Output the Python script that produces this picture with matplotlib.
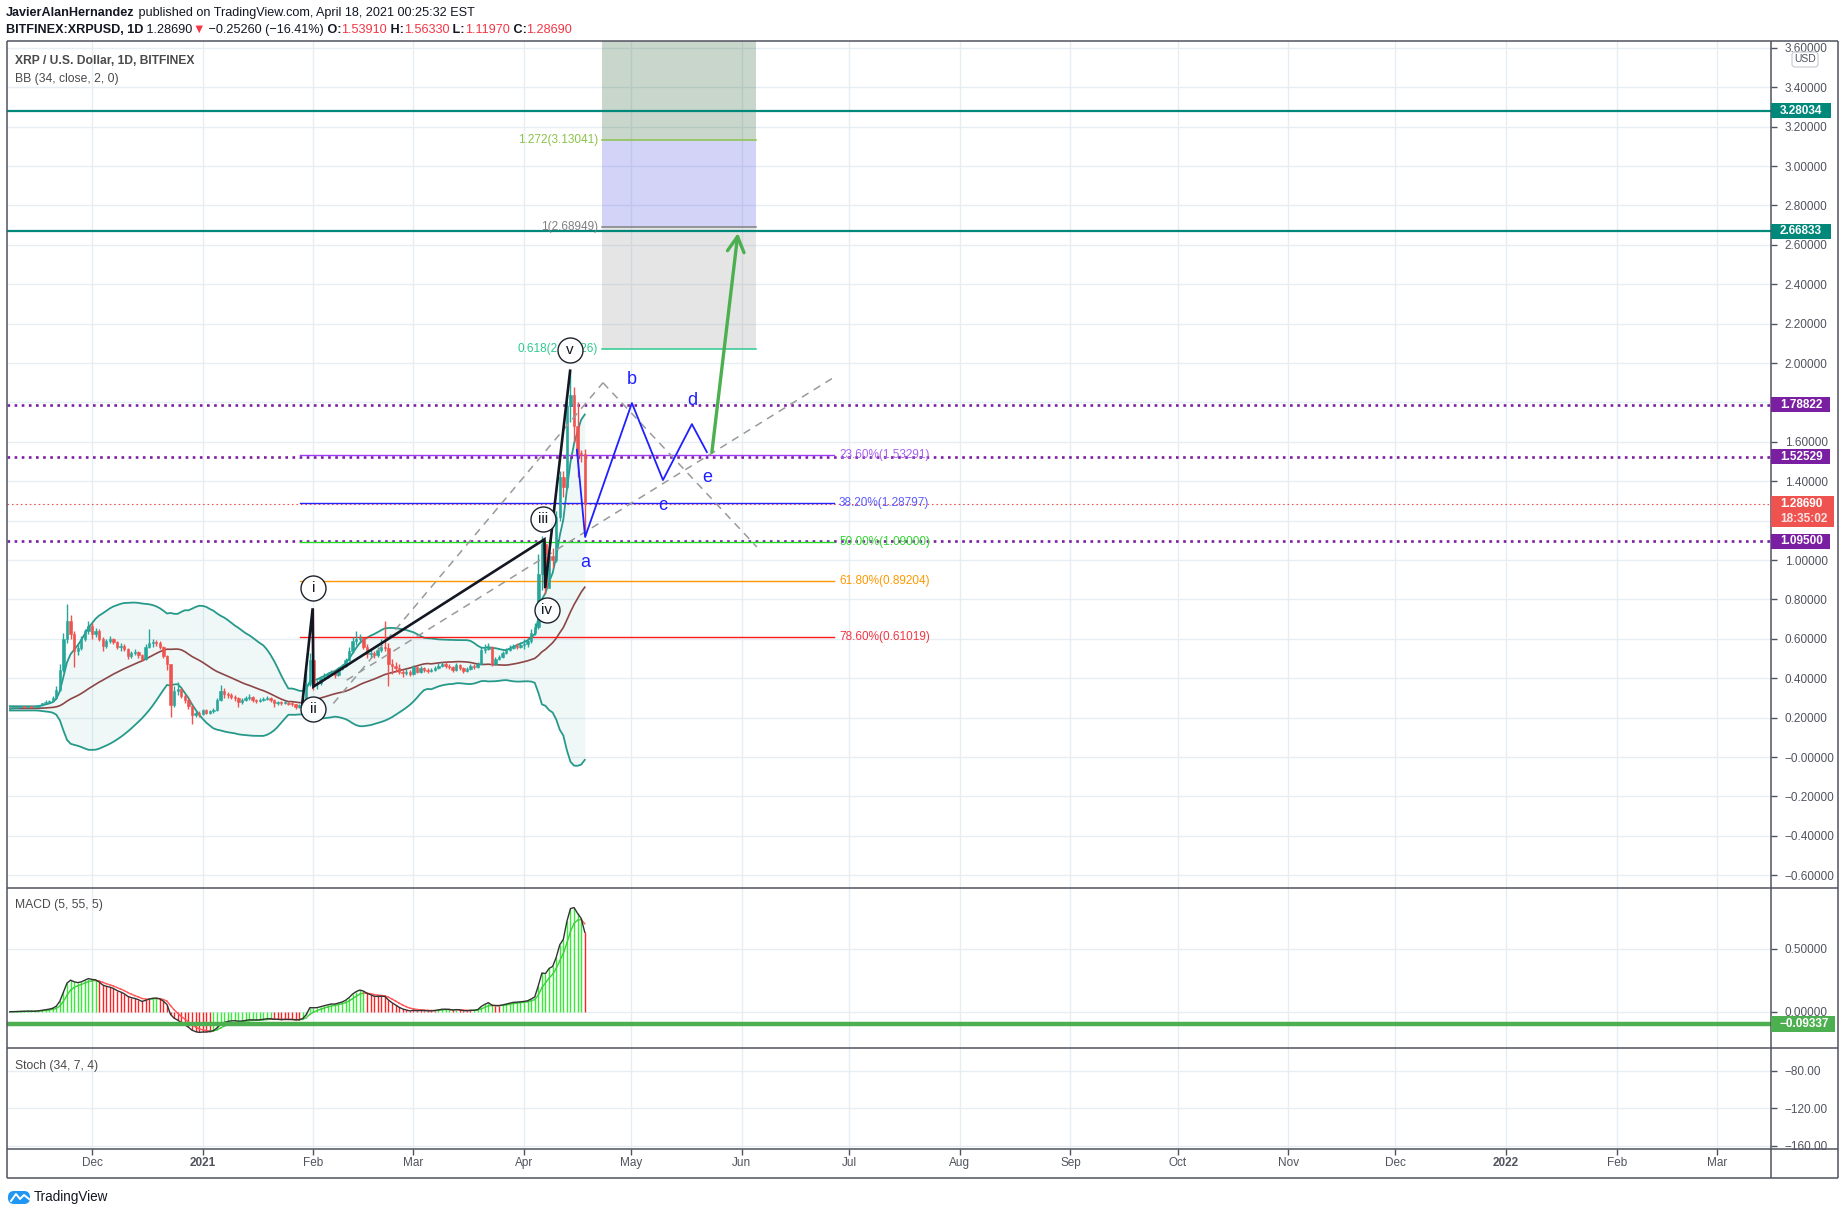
import numpy as np
import pandas as pd
import matplotlib
matplotlib.use('Agg')
import matplotlib.pyplot as plt
from matplotlib import font_manager
from matplotlib.patches import Rectangle, FancyBboxPatch
import matplotlib.transforms as mtrans

# ---------------------------------------------------------------- data
# hidden history (Sep 29 - Nov 7 2020) used only to warm up BB / MACD
pre_closes = [0.240, 0.242, 0.245, 0.250, 0.252, 0.251, 0.253, 0.250, 0.252, 0.254,
              0.256, 0.255, 0.254, 0.253, 0.250, 0.248, 0.245, 0.244, 0.243, 0.242,
              0.245, 0.248, 0.252, 0.254, 0.253, 0.250, 0.248, 0.246, 0.245, 0.242,
              0.239, 0.236, 0.236, 0.238, 0.240, 0.244, 0.248, 0.250, 0.248, 0.246]

candle_start = '2020-11-08'
close_nov = [.248, .250, .252, .254, .252, .256, .252, .254, .262, .272, .280, .283, .300, .340, .440, .600, .690, .625, .540, .555, .600, .640, .665]
high_nov = [.252, .254, .256, .258, .257, .259, .258, .257, .266, .276, .287, .290, .310, .360, .470, .630, .777, .720, .640, .575, .615, .650, .690]
low_nov = [.244, .246, .248, .250, .249, .250, .249, .250, .252, .260, .270, .276, .281, .298, .336, .430, .580, .600, .458, .520, .545, .590, .625]

close_dec = [.625, .640, .600, .565, .590, .600, .585, .560, .565, .550, .515, .530, .535, .520, .500, .560, .580, .585, .580, .560, .515, .470, .265, .335, .345, .310, .290, .260, .215, .225, .220]
high_dec = [.680, .655, .650, .610, .600, .615, .605, .590, .580, .575, .555, .540, .550, .540, .525, .575, .650, .600, .595, .590, .565, .520, .470, .360, .380, .350, .320, .300, .265, .240, .235]
low_dec = [.600, .610, .590, .540, .555, .580, .575, .550, .540, .540, .500, .505, .520, .505, .485, .495, .555, .560, .565, .550, .505, .440, .205, .255, .315, .300, .275, .245, .170, .205, .205]

close_jan = [.238, .225, .232, .240, .290, .335, .320, .315, .305, .300, .280, .290, .300, .305, .290, .285, .290, .295, .300, .290, .272, .278, .272, .275, .270, .268, .255, .262, .290, .370, .490]
high_jan = [.245, .245, .240, .250, .300, .365, .350, .330, .325, .315, .305, .300, .310, .320, .310, .295, .300, .305, .310, .305, .292, .285, .282, .282, .280, .278, .270, .268, .305, .450, .530]
low_jan = [.215, .218, .220, .225, .235, .285, .300, .300, .295, .285, .255, .270, .285, .290, .280, .275, .280, .285, .290, .280, .255, .262, .265, .268, .262, .258, .245, .250, .255, .282, .360]

close_feb = [.370, .375, .400, .410, .420, .430, .415, .445, .460, .490, .540, .590, .600, .605, .560, .525, .530, .520, .545, .560, .555, .470, .460, .450, .430, .425, .430, .420]
high_feb = [.755, .390, .410, .425, .430, .440, .440, .455, .470, .505, .560, .610, .640, .625, .610, .575, .545, .540, .560, .600, .690, .580, .500, .480, .470, .445, .445, .440]
low_feb = [.340, .345, .365, .390, .400, .415, .400, .410, .440, .455, .485, .530, .570, .580, .550, .505, .505, .505, .510, .535, .540, .360, .420, .430, .420, .405, .415, .410]

close_mar = [.455, .430, .450, .440, .435, .440, .450, .460, .470, .460, .455, .440, .465, .450, .435, .445, .460, .455, .470, .545, .550, .560, .470, .500, .510, .530, .545, .555, .565, .560, .570]
high_mar = [.465, .460, .460, .455, .450, .450, .460, .475, .480, .480, .470, .460, .475, .470, .455, .455, .470, .470, .480, .560, .575, .580, .565, .510, .520, .540, .555, .570, .575, .580, .585]
low_mar = [.415, .425, .425, .430, .425, .430, .435, .445, .455, .450, .445, .430, .435, .440, .425, .430, .440, .445, .450, .465, .530, .545, .460, .465, .495, .505, .525, .540, .550, .550, .555]

close_apr = [.575, .590, .630, .660, .930, 1.080, .860, 1.020, 1.000, 1.220, 1.420, 1.370, 1.780, 1.840, 1.680, 1.540, 1.539, 1.2869]
high_apr = [.600, .610, .650, .680, 1.030, 1.120, 1.100, 1.050, 1.060, 1.250, 1.450, 1.450, 1.800, 1.960, 1.880, 1.800, 1.560, 1.5633]
low_apr = [.550, .560, .580, .620, .650, .850, .827, .860, .960, .990, 1.200, 1.320, 1.360, 1.700, 1.600, 1.420, 1.500, 1.1197]

month_ticks = ['2020-12-01', '2021-01-01', '2021-02-01', '2021-03-01', '2021-04-01', '2021-05-01',
               '2021-06-01', '2021-07-01', '2021-08-01', '2021-09-01', '2021-10-01', '2021-11-01',
               '2021-12-01', '2022-01-01', '2022-02-01', '2022-03-01']
month_labels = ['Dec', '2021', 'Feb', 'Mar', 'Apr', 'May', 'Jun', 'Jul', 'Aug', 'Sep', 'Oct', 'Nov',
                'Dec', '2022', 'Feb', 'Mar']

# user drawings (anchor points: day offset from 2020-12-01, price)
hlines_teal = [3.28034, 2.66833]
hlines_purple = [1.78822, 1.52529, 1.09500]
last_price = 1.28690
fib_ret_x = [58.2, 207.8]
fib_ret_levels = [1.53291, 1.28797, 1.09000, 0.89204, 0.61019]
fib_ret_labels = ['23.60%(1.53291)', '38.20%(1.28797)', '50.00%(1.09000)', '61.80%(0.89204)', '78.60%(0.61019)']
fib_ret_colors = ['#9c3cf5', '#2323ff', '#22dd22', '#ff9800', '#ff1a1a']
fib_ret_text_colors = ['#a860f0', '#5a5aff', '#33d633', '#ff9800', '#f23645']
fib_ext_x = [142.8, 185.9]
fib_ext_levels = [2.07026, 2.68949, 3.13041, 3.69128]
fib_ext_labels = ['0.618(2.07026)', '1(2.68949)', '1.272(3.13041)']
fib_ext_colors = ['#2ec98f', '#808080', '#8bc34a']
ew_x = [58.9, 61.8, 62.0, 126.7, 126.9, 133.9]
ew_y = [0.272, 0.755, 0.357, 1.105, 0.858, 1.961]
ew_labels = ['i', 'ii', 'iii', 'iv', 'v']
ew_label_x = [62.0, 62.0, 126.4, 127.3, 133.9]
ew_label_y = [0.857, 0.246, 1.206, 0.746, 2.066]
dash_lines = [([67.6, 143.1], [0.272, 1.90]), ([143.1, 186.2], [1.90, 1.066]), ([71.3, 208.0], [0.39, 1.93])]
abc_x = [135.8, 138.1, 151.2, 159.9, 168.0, 172.2]
abc_y = [1.56, 1.117, 1.797, 1.406, 1.690, 1.548]
abc_labels = ['a', 'b', 'c', 'd', 'e']
abc_label_x = [138.1, 151.2, 159.9, 168.0, 172.2]
abc_label_y = [0.99, 1.914, 1.279, 1.812, 1.421]
arrow_from = (173.6, 1.548)
arrow_to = (180.9, 2.66)
macd_hline = -0.09337

# ---------------------------------------------------------------- fonts
names = {f.name for f in font_manager.fontManager.ttflist}
FONT = 'Liberation Sans Narrow' if 'Liberation Sans Narrow' in names else 'Liberation Sans'
NARROW = FONT == 'Liberation Sans Narrow'
plt.rcParams['font.family'] = [FONT, 'DejaVu Sans']


def fs(px):
    return px * 0.72 * (1.0 if NARROW else 0.9)


W, H, DPI = 1847, 1214, 100
TXT = '#131722'
AXC = '#50535e'
GRID = '#e6edf3'

# ---------------------------------------------------------------- series
closes = close_nov + close_dec + close_jan + close_feb + close_mar + close_apr
highs = np.array(high_nov + high_dec + high_jan + high_feb + high_mar + high_apr)
lows = np.array(low_nov + low_dec + low_jan + low_feb + low_mar + low_apr)
c = np.array(closes)
o = np.array([pre_closes[-1]] + closes[:-1])
dates = pd.date_range(candle_start, periods=len(c), freq='D')
origin = pd.Timestamp('2020-12-01')
xd = (dates - origin).days.values.astype(float)

allc = pd.Series(pre_closes + closes)
npre = len(pre_closes)
basis = allc.rolling(34).mean()
dev = allc.rolling(34).std(ddof=0)
upper = (basis + 2 * dev).values[npre:]
lower = (basis - 2 * dev).values[npre:]
basis = basis.values[npre:]
ema_f = allc.ewm(span=5, adjust=False).mean()
ema_s = allc.ewm(span=55, adjust=False).mean()
macd_all = ema_f - ema_s
sig_all = macd_all.ewm(span=5, adjust=False).mean()
macd = macd_all.values[npre:]
sig = sig_all.values[npre:]

# ---------------------------------------------------------------- figure
fig = plt.figure(figsize=(W / DPI, H / DPI), dpi=DPI, facecolor='white')


def fax(x0, y0, x1, y1):
    return [x0 / W, 1 - y1 / H, (x1 - x0) / W, (y1 - y0) / H]


LX, RX = 7, 1771
TOP, S1, S2, S3, BOT, FR = 41, 888, 1048, 1149, 1178, 1838
ax = fig.add_axes(fax(LX, TOP, RX, S1))
axm = fig.add_axes(fax(LX, S1, RX, S2), sharex=ax)
axs = fig.add_axes(fax(LX, S2, RX, S3), sharex=ax)

ax.set_xlim(-23.8, 470.2)
ax.set_ylim(-0.665, 3.635)
axm.set_ylim(-0.286, 0.984)
axs.set_ylim(-163.2, -55.5)

tick_x = [(pd.Timestamp(d) - origin).days for d in month_ticks]


def pricefmt(v):
    s = f'{abs(v):.5f}'
    return ('\u2212' + s) if v < 1e-4 else s


for a in (ax, axm, axs):
    a.set_facecolor('white')
    for sp in a.spines.values():
        sp.set_visible(False)
    a.yaxis.tick_right()
    a.tick_params(axis='y', length=4, width=1, color=AXC, pad=6, labelsize=fs(13),
                  labelcolor=AXC, direction='out')
    a.set_xticks(tick_x)
    a.grid(True, color=GRID, lw=1, zorder=0)
    a.set_axisbelow(True)

main_ticks = np.round(np.arange(-0.6, 3.61, 0.2), 2)
ax.set_yticks(main_ticks)
ax.set_yticklabels([pricefmt(v) for v in main_ticks])
axm.set_yticks([0.0, 0.5])
axm.set_yticklabels(['0.00000', '0.50000'])
axs.set_yticks([-80, -120, -160])
axs.set_yticklabels(['\u221280.00', '\u2212120.00', '\u2212160.00'])
ax.tick_params(axis='x', labelbottom=False, length=0)
axm.tick_params(axis='x', labelbottom=False, length=0)
axs.tick_params(axis='x', length=4, width=1, color=AXC, pad=2, labelsize=fs(13), labelcolor=AXC)
axs.set_xticklabels(month_labels)
for lab in axs.get_xticklabels():
    if lab.get_text() in ('2021', '2022'):
        lab.set_fontweight('bold')

# ---------------------------------------------------------------- main pane
# fib extension boxes
ext_fills = ['#808080', '#6e6ee6', '#4a7a55']
ext_alpha = [0.2, 0.3, 0.3]
for i in range(3):
    ax.fill_between(fib_ext_x, fib_ext_levels[i], fib_ext_levels[i + 1], color=ext_fills[i],
                    alpha=ext_alpha[i], lw=0, zorder=1)
for lv, lab, col in zip(fib_ext_levels[:3], fib_ext_labels, fib_ext_colors):
    ax.plot(fib_ext_x, [lv, lv], color=col, lw=1.1, zorder=2)
    ax.text(fib_ext_x[0] - 1.1, lv, lab, color=col, fontsize=fs(13), ha='right', va='center', zorder=7)

# Bollinger bands
ax.fill_between(xd, lower, upper, color='#26a69a', alpha=0.07, lw=0, zorder=1)
ax.plot(xd, upper, color='#26998a', lw=1.3, zorder=3)
ax.plot(xd, lower, color='#26998a', lw=1.3, zorder=3)
ax.plot(xd, basis, color='#8d4646', lw=1.2, zorder=3)

# horizontal lines
for v in hlines_teal:
    ax.axhline(v, color='#00897b', lw=1.6, zorder=4)
for v in hlines_purple:
    ax.axhline(v, color='#7b1fa2', lw=1.9, ls=(0, (1.0, 1.7)), zorder=4)
ax.axhline(last_price, color='#ef5350', lw=0.8, ls=(0, (1.5, 2.5)), zorder=4)

# fib retracement
for lv, lab, col, tcol in zip(fib_ret_levels, fib_ret_labels, fib_ret_colors, fib_ret_text_colors):
    ax.plot(fib_ret_x, [lv, lv], color=col, lw=1.0, zorder=4)
    ax.text(fib_ret_x[1] + 1.4, lv, lab, color=tcol, fontsize=fs(13), ha='left', va='center', zorder=7)

# candles
up = c >= o
cols = np.where(up, '#26a69a', '#ef5350')
ax.vlines(xd, lows, highs, colors=cols, lw=1.0, zorder=5)
body = np.maximum(np.abs(c - o), 0.005)
ax.bar(xd, body, bottom=np.minimum(o, c), width=0.66, color=cols, edgecolor=cols, lw=0.4, zorder=5)

# dashed helper lines
for xs, ys in dash_lines:
    ax.plot(xs, ys, color='#9a9a9a', lw=1.1, ls=(0, (5, 4)), zorder=6)

# elliott impulse
ax.plot(ew_x, ew_y, color=TXT, lw=1.9, zorder=6, solid_joinstyle='miter')
ax.scatter(ew_label_x, ew_label_y, s=(25 * 0.72) ** 2, facecolors='white', edgecolors=TXT,
           linewidths=1.0, zorder=7, alpha=0.95)
for lx, ly, lab in zip(ew_label_x, ew_label_y, ew_labels):
    ax.text(lx, ly, lab, ha='center', va='center', fontsize=fs(17), color=TXT, zorder=8)

# triangle a-b-c-d-e
ax.plot(abc_x, abc_y, color='#1f1fff', lw=1.3, zorder=6)
for lx, ly, lab in zip(abc_label_x, abc_label_y, abc_labels):
    ax.text(lx, ly, lab, ha='center', va='center', fontsize=fs(20), color='#1f1fff', zorder=8)

ax.annotate('', xy=arrow_to, xytext=arrow_from,
            arrowprops=dict(arrowstyle='->,head_length=1.1,head_width=0.6', color='#4caf50', lw=2.4,
                            shrinkA=0, shrinkB=0), zorder=8)

# ---------------------------------------------------------------- MACD pane
hcol = np.where(macd >= sig, '#33ee33', '#ff2222')
axm.vlines(xd, 0, macd, colors=hcol, lw=1.0, zorder=3)
for i in range(len(xd) - 1):
    sc = '#3fcf3f' if macd[i + 1] >= sig[i + 1] else '#ff5555'
    axm.plot(xd[i:i + 2], sig[i:i + 2], color=sc, lw=1.0, zorder=4)
axm.plot(xd, macd, color='#333333', lw=1.0, zorder=5)
axm.axhline(macd_hline, color='#4caf50', lw=3.2, zorder=6)

# ---------------------------------------------------------------- overlay
ov = fig.add_axes([0, 0, 1, 1], zorder=20)
ov.set_xlim(0, W)
ov.set_ylim(H, 0)
ov.axis('off')

for (x0, y0, x1, y1) in [(LX, TOP, FR, TOP), (LX, TOP, LX, BOT), (FR, TOP, FR, BOT), (LX, BOT, FR, BOT),
                         (RX, TOP, RX, BOT), (LX, S1, FR, S1), (LX, S2, FR, S2), (LX, S3, FR, S3)]:
    ov.plot([x0, x1], [y0, y1], color=AXC, lw=1.1, solid_capstyle='butt')


def ypix(axx, v):
    return H - axx.transData.transform((0, v))[1]


def tag(axx, v, text, fc, w=60, h=15, tc='white', second=None):
    y = ypix(axx, v)
    if second is None:
        ov.add_patch(Rectangle((RX, y - h / 2), w, h, fc=fc, ec='none', zorder=21))
        ov.text(RX + 9, y, text, color=tc, fontsize=fs(13), fontweight='bold', va='center', ha='left', zorder=22)
    else:
        ov.add_patch(Rectangle((RX, y - 8), w, 31, fc=fc, ec='none', zorder=21))
        ov.text(RX + 9, y, text, color=tc, fontsize=fs(13), fontweight='bold', va='center', ha='left', zorder=22)
        ov.text(RX + 9, y + 15, second, color='#fde3e3', fontsize=fs(13), fontweight='bold', va='center',
                ha='left', zorder=22)


tag(ax, hlines_teal[0], '3.28034', '#00897b')
tag(ax, hlines_teal[1], '2.66833', '#00897b')
tag(ax, hlines_purple[0], '1.78822', '#7b1fa2', w=59)
tag(ax, hlines_purple[1], '1.52529', '#7b1fa2', w=59)
tag(ax, hlines_purple[2], '1.09500', '#7b1fa2', w=59)
tag(ax, last_price, '1.28690', '#ef5350', w=63, second='18:35:02')
tag(axm, macd_hline, '\u22120.09337', '#4caf50', w=64, h=16)

ov.add_patch(FancyBboxPatch((1792, 52), 26, 15, boxstyle='round,pad=0,rounding_size=3',
                            fc='white', ec='#c5c8d0', lw=0.8, zorder=23))
ov.text(1805, 59.5, 'USD', fontsize=fs(11.5), color=AXC, ha='center', va='center', zorder=24)

renderer = fig.canvas.get_renderer()


def seq(x, y, pieces, size):
    for s, wgt, col in pieces:
        t = ov.text(x, y, s, fontsize=fs(size), fontweight=wgt, color=col, va='center', ha='left',
                    family=[FONT, 'DejaVu Sans'])
        bb = t.get_window_extent(renderer)
        x += bb.width


RED = '#f23645'
seq(6, 13, [('JavierAlanHernandez', 'bold', TXT),
            (' published on TradingView.com, April 18, 2021 00:25:32 EST', 'normal', TXT)], 14)
seq(6, 30, [('BITFINEX:XRPUSD, 1D', 'bold', TXT), (' 1.28690', 'normal', TXT), ('\u25BC', 'normal', RED),
            (' \u22120.25260 (\u221216.41%)', 'normal', TXT), (' O:', 'bold', TXT), ('1.53910', 'normal', RED),
            (' H:', 'bold', TXT), ('1.56330', 'normal', RED), (' L:', 'bold', TXT), ('1.11970', 'normal', RED),
            (' C:', 'bold', TXT), ('1.28690', 'normal', RED)], 14)

ov.text(15, 61, 'XRP / U.S. Dollar, 1D, BITFINEX', fontsize=fs(13.5), fontweight='bold', color='#4a4a4a',
        va='center', ha='left')
ov.text(15, 79, 'BB (34, close, 2, 0)', fontsize=fs(13.5), color='#4a4a4a', va='center', ha='left')
ov.text(15, 905, 'MACD (5, 55, 5)', fontsize=fs(13.5), color='#4a4a4a', va='center', ha='left')
ov.text(15, 1066, 'Stoch (34, 7, 4)', fontsize=fs(13.5), color='#4a4a4a', va='center', ha='left')

# TradingView logo
ov.add_patch(FancyBboxPatch((8, 1191), 22, 13, boxstyle='round,pad=0,rounding_size=6',
                            fc='#2196f3', ec='none', zorder=21))
ov.plot([11, 16, 20, 24, 29], [1201, 1194, 1199, 1195, 1199], color='white', lw=1.4, zorder=22)
ov.text(34, 1197, 'TradingView', fontsize=fs(15), color=TXT, va='center', ha='left')

fig.savefig('out.png', dpi=DPI, facecolor='white')
